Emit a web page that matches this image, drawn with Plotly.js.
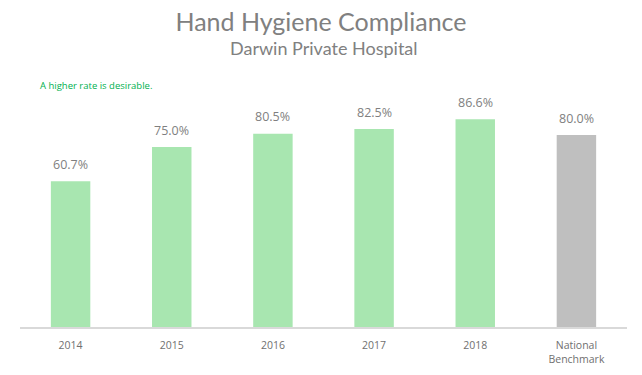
<!DOCTYPE html>
<html><head><meta charset="utf-8">
<script src="https://cdn.plot.ly/plotly-3.0.1.min.js"></script>
<style>html,body{margin:0;padding:0;background:#fff}#c{width:642px;height:375px}</style>
</head><body><div id="c"></div>
<script>
const categories = ["2014","2015","2016","2017","2018","National<br>Benchmark"];
const values = [60.7, 75.0, 80.5, 82.5, 86.6, 80.0];
const labels = values.map(v => v.toFixed(1) + "%");
const colors = ["#a8e6b0","#a8e6b0","#a8e6b0","#a8e6b0","#a8e6b0","#bfbfbf"];

const trace = {
  type: "bar", x: categories, y: values,
  marker: {color: colors},
  width: 0.39, hoverinfo: "none"
};
const valueLabels = categories.map((c, i) => ({
  x: i, y: values[i], xref: "x", yref: "y", text: labels[i], showarrow: false,
  yanchor: "middle", yshift: 17,
  font: {family: "Open Sans, sans-serif", size: 12.5, color: "#7f7f7f"}
}));
const layout = {
  width: 642, height: 375,
  margin: {l: 20, r: 15, t: 87, b: 48},
  paper_bgcolor: "#fff", plot_bgcolor: "#fff",
  showlegend: false,
  title: {text: "Hand Hygiene Compliance", x: 0.5, xanchor: "center", y: 0.94, yanchor: "middle",
          font: {family: "Lato, sans-serif", size: 25, color: "#808080"}},
  xaxis: {type: "category", showline: true, linecolor: "#d9d9d9", linewidth: 1.5, ticks: "", showgrid: false,
          ticklabelstandoff: 8,
          tickfont: {family: "Open Sans, sans-serif", size: 10.5, color: "#707070"}, fixedrange: true},
  yaxis: {range: [0, 100], visible: false, showgrid: false, zeroline: false},
  annotations: [
    {text: "Darwin Private Hospital", xref: "paper", yref: "paper", x: 0.5, y: 1.1625,
     xanchor: "center", yanchor: "middle", showarrow: false,
     font: {family: "Lato, sans-serif", size: 18, color: "#808080"}},
    {text: "A higher rate is desirable.", xref: "paper", yref: "paper", x: 0.03, y: 1.008,
     xanchor: "left", yanchor: "middle", showarrow: false,
     font: {family: "Open Sans, sans-serif", size: 9.5, color: "#00b050"}}
  ].concat(valueLabels)
};
Plotly.newPlot("c", [trace], layout, {displayModeBar: false, staticPlot: true});
</script></body></html>
